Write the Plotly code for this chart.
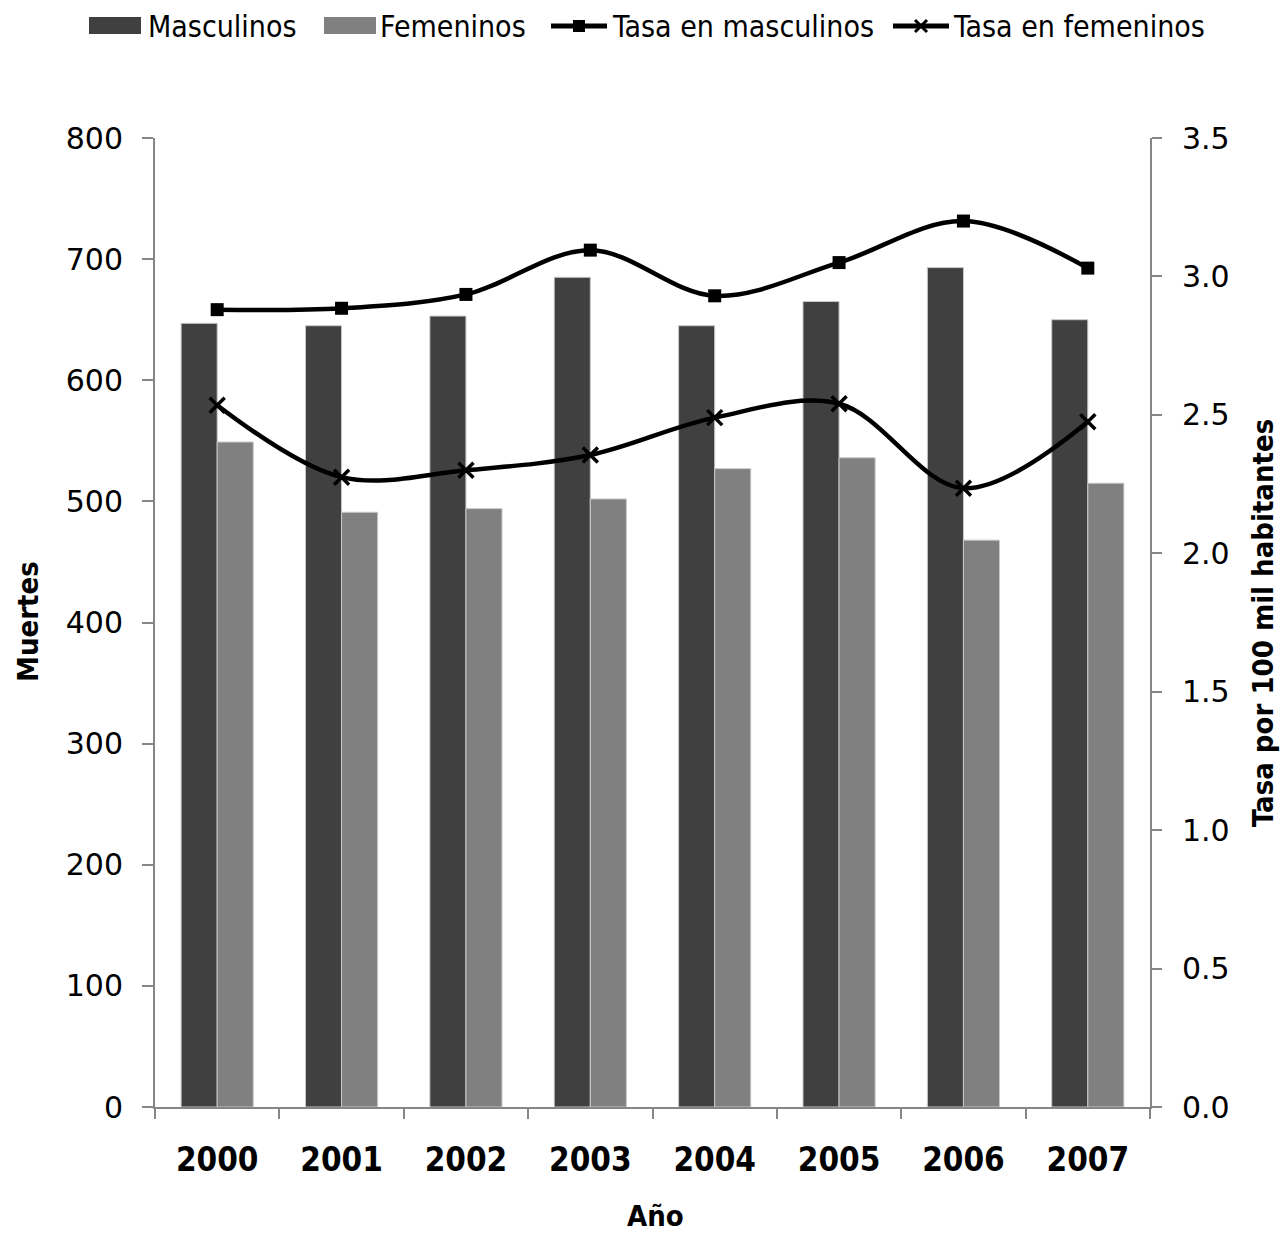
import plotly.graph_objects as go

years = ["2000", "2001", "2002", "2003", "2004", "2005", "2006", "2007"]
muertes_masc = [647, 645, 653, 685, 645, 665, 693, 650]
muertes_fem = [549, 491, 494, 502, 527, 536, 468, 515]
tasa_masc = [2.88, 2.885, 2.935, 3.095, 2.93, 3.05, 3.20, 3.03]
tasa_fem = [2.535, 2.275, 2.30, 2.355, 2.49, 2.54, 2.235, 2.475]

series_names = ["Masculinos", "Femeninos", "Tasa en masculinos", "Tasa en femeninos"]
bar_colors = ["#404040", "#808080"]

AXIS_GRAY = "#868686"
FONT = "DejaVu Sans"
FONT_C = "DejaVu Sans Condensed, Liberation Sans Narrow, DejaVu Sans"

W, H = 1281, 1235
L, R, T, B = 155, 131, 138, 128
PW, PH = W - L - R, H - T - B

fig = go.Figure()
for vals, name, col in zip([muertes_masc, muertes_fem], series_names[:2], bar_colors):
    fig.add_trace(go.Bar(
        x=years, y=vals, name=name,
        marker=dict(color=col, line=dict(color="#c8c8c8", width=1)),
    ))

line_style = dict(color="black", width=4.5, shape="spline", smoothing=1.0)
fig.add_trace(go.Scatter(
    x=years, y=tasa_masc, name=series_names[2], yaxis="y2",
    mode="lines+markers", line=line_style,
    marker=dict(symbol="square", size=13, color="black"),
))
fig.add_trace(go.Scatter(
    x=years, y=tasa_fem, name=series_names[3], yaxis="y2",
    mode="lines+markers", line=line_style,
    marker=dict(symbol="x-thin", size=15, color="black", line=dict(color="black", width=3.5)),
))


# paper coordinates span the plotting area, so convert page pixels accordingly
def px_x(p):
    return (p - L) / PW


def px_y(p):
    return (H - B - p) / PH


# Legend drawn along the top edge: swatches / line keys plus their labels
shapes = []
annotations = []
legend_y = 26
rects = [(89, 141), (324, 376)]
for (x0, x1), col in zip(rects, bar_colors):
    shapes.append(dict(type="rect", xref="paper", yref="paper",
                       x0=px_x(x0), x1=px_x(x1), y0=px_y(34), y1=px_y(17),
                       fillcolor=col, line=dict(width=0)))
line_keys = [(551, 607, "square"), (893, 949, "x")]
for x0, x1, sym in line_keys:
    shapes.append(dict(type="line", xref="paper", yref="paper",
                       x0=px_x(x0), x1=px_x(x1), y0=px_y(legend_y), y1=px_y(legend_y),
                       line=dict(color="black", width=5)))
    cx = (x0 + x1) / 2
    if sym == "square":
        shapes.append(dict(type="rect", xref="paper", yref="paper",
                           x0=px_x(cx - 6), x1=px_x(cx + 6), y0=px_y(legend_y + 6), y1=px_y(legend_y - 6),
                           fillcolor="black", line=dict(width=0)))
    else:
        for dy in (-6, 6):
            shapes.append(dict(type="line", xref="paper", yref="paper",
                               x0=px_x(cx - 6), x1=px_x(cx + 6),
                               y0=px_y(legend_y - dy), y1=px_y(legend_y + dy),
                               line=dict(color="black", width=3)))
label_x = [146, 378, 610, 951]
for lx, name in zip(label_x, series_names):
    annotations.append(dict(text=name, xref="paper", yref="paper", x=px_x(lx), y=px_y(legend_y),
                            xanchor="left", yanchor="middle", showarrow=False,
                            font=dict(family=FONT_C, size=30, color="black")))

# Axis titles
title_font = dict(family=FONT_C, size=29, color="black", weight="bold")
annotations.append(dict(text="<b>Muertes</b>", xref="paper", yref="paper", x=px_x(28), y=px_y(622),
                        textangle=-90, showarrow=False, xanchor="center", yanchor="middle", font=title_font))
annotations.append(dict(text="<b>Tasa por 100 mil habitantes</b>", xref="paper", yref="paper",
                        x=px_x(1263), y=px_y(623), textangle=-90, showarrow=False,
                        xanchor="center", yanchor="middle", font=title_font))
annotations.append(dict(text="<b>Año</b>", xref="paper", yref="paper", x=px_x(655), y=px_y(1216),
                        showarrow=False, xanchor="center", yanchor="middle", font=title_font))

fig.update_layout(
    width=W, height=H,
    margin=dict(l=L, r=R, t=T, b=B, autoexpand=False),
    paper_bgcolor="white", plot_bgcolor="white",
    font=dict(family=FONT, color="black", size=30),
    barmode="group", bargap=0.42, bargroupgap=0,
    showlegend=False,
    shapes=shapes, annotations=annotations,
    xaxis=dict(
        type="category", tickson="boundaries", showline=True, linecolor=AXIS_GRAY,
        linewidth=2, ticks="outside", ticklen=10, tickcolor=AXIS_GRAY, tickwidth=2,
        tickfont=dict(family=FONT_C, size=33, color="black", weight="bold"),
        ticklabelstandoff=22, showgrid=False,
    ),
    yaxis=dict(
        range=[0, 800], dtick=100, showline=True, linecolor=AXIS_GRAY, linewidth=2,
        ticks="outside", ticklen=11, tickcolor=AXIS_GRAY, tickwidth=2,
        tickfont=dict(family=FONT, size=30), showgrid=False, zeroline=False,
        ticklabelstandoff=13,
    ),
    yaxis2=dict(
        range=[0, 3.5], dtick=0.5, tickformat=".1f", overlaying="y", side="right",
        showline=True, linecolor=AXIS_GRAY, linewidth=2,
        ticks="outside", ticklen=10, tickcolor=AXIS_GRAY, tickwidth=2,
        tickfont=dict(family=FONT, size=30), showgrid=False, zeroline=False,
        ticklabelstandoff=14,
    ),
)

fig.write_html("out.html")
